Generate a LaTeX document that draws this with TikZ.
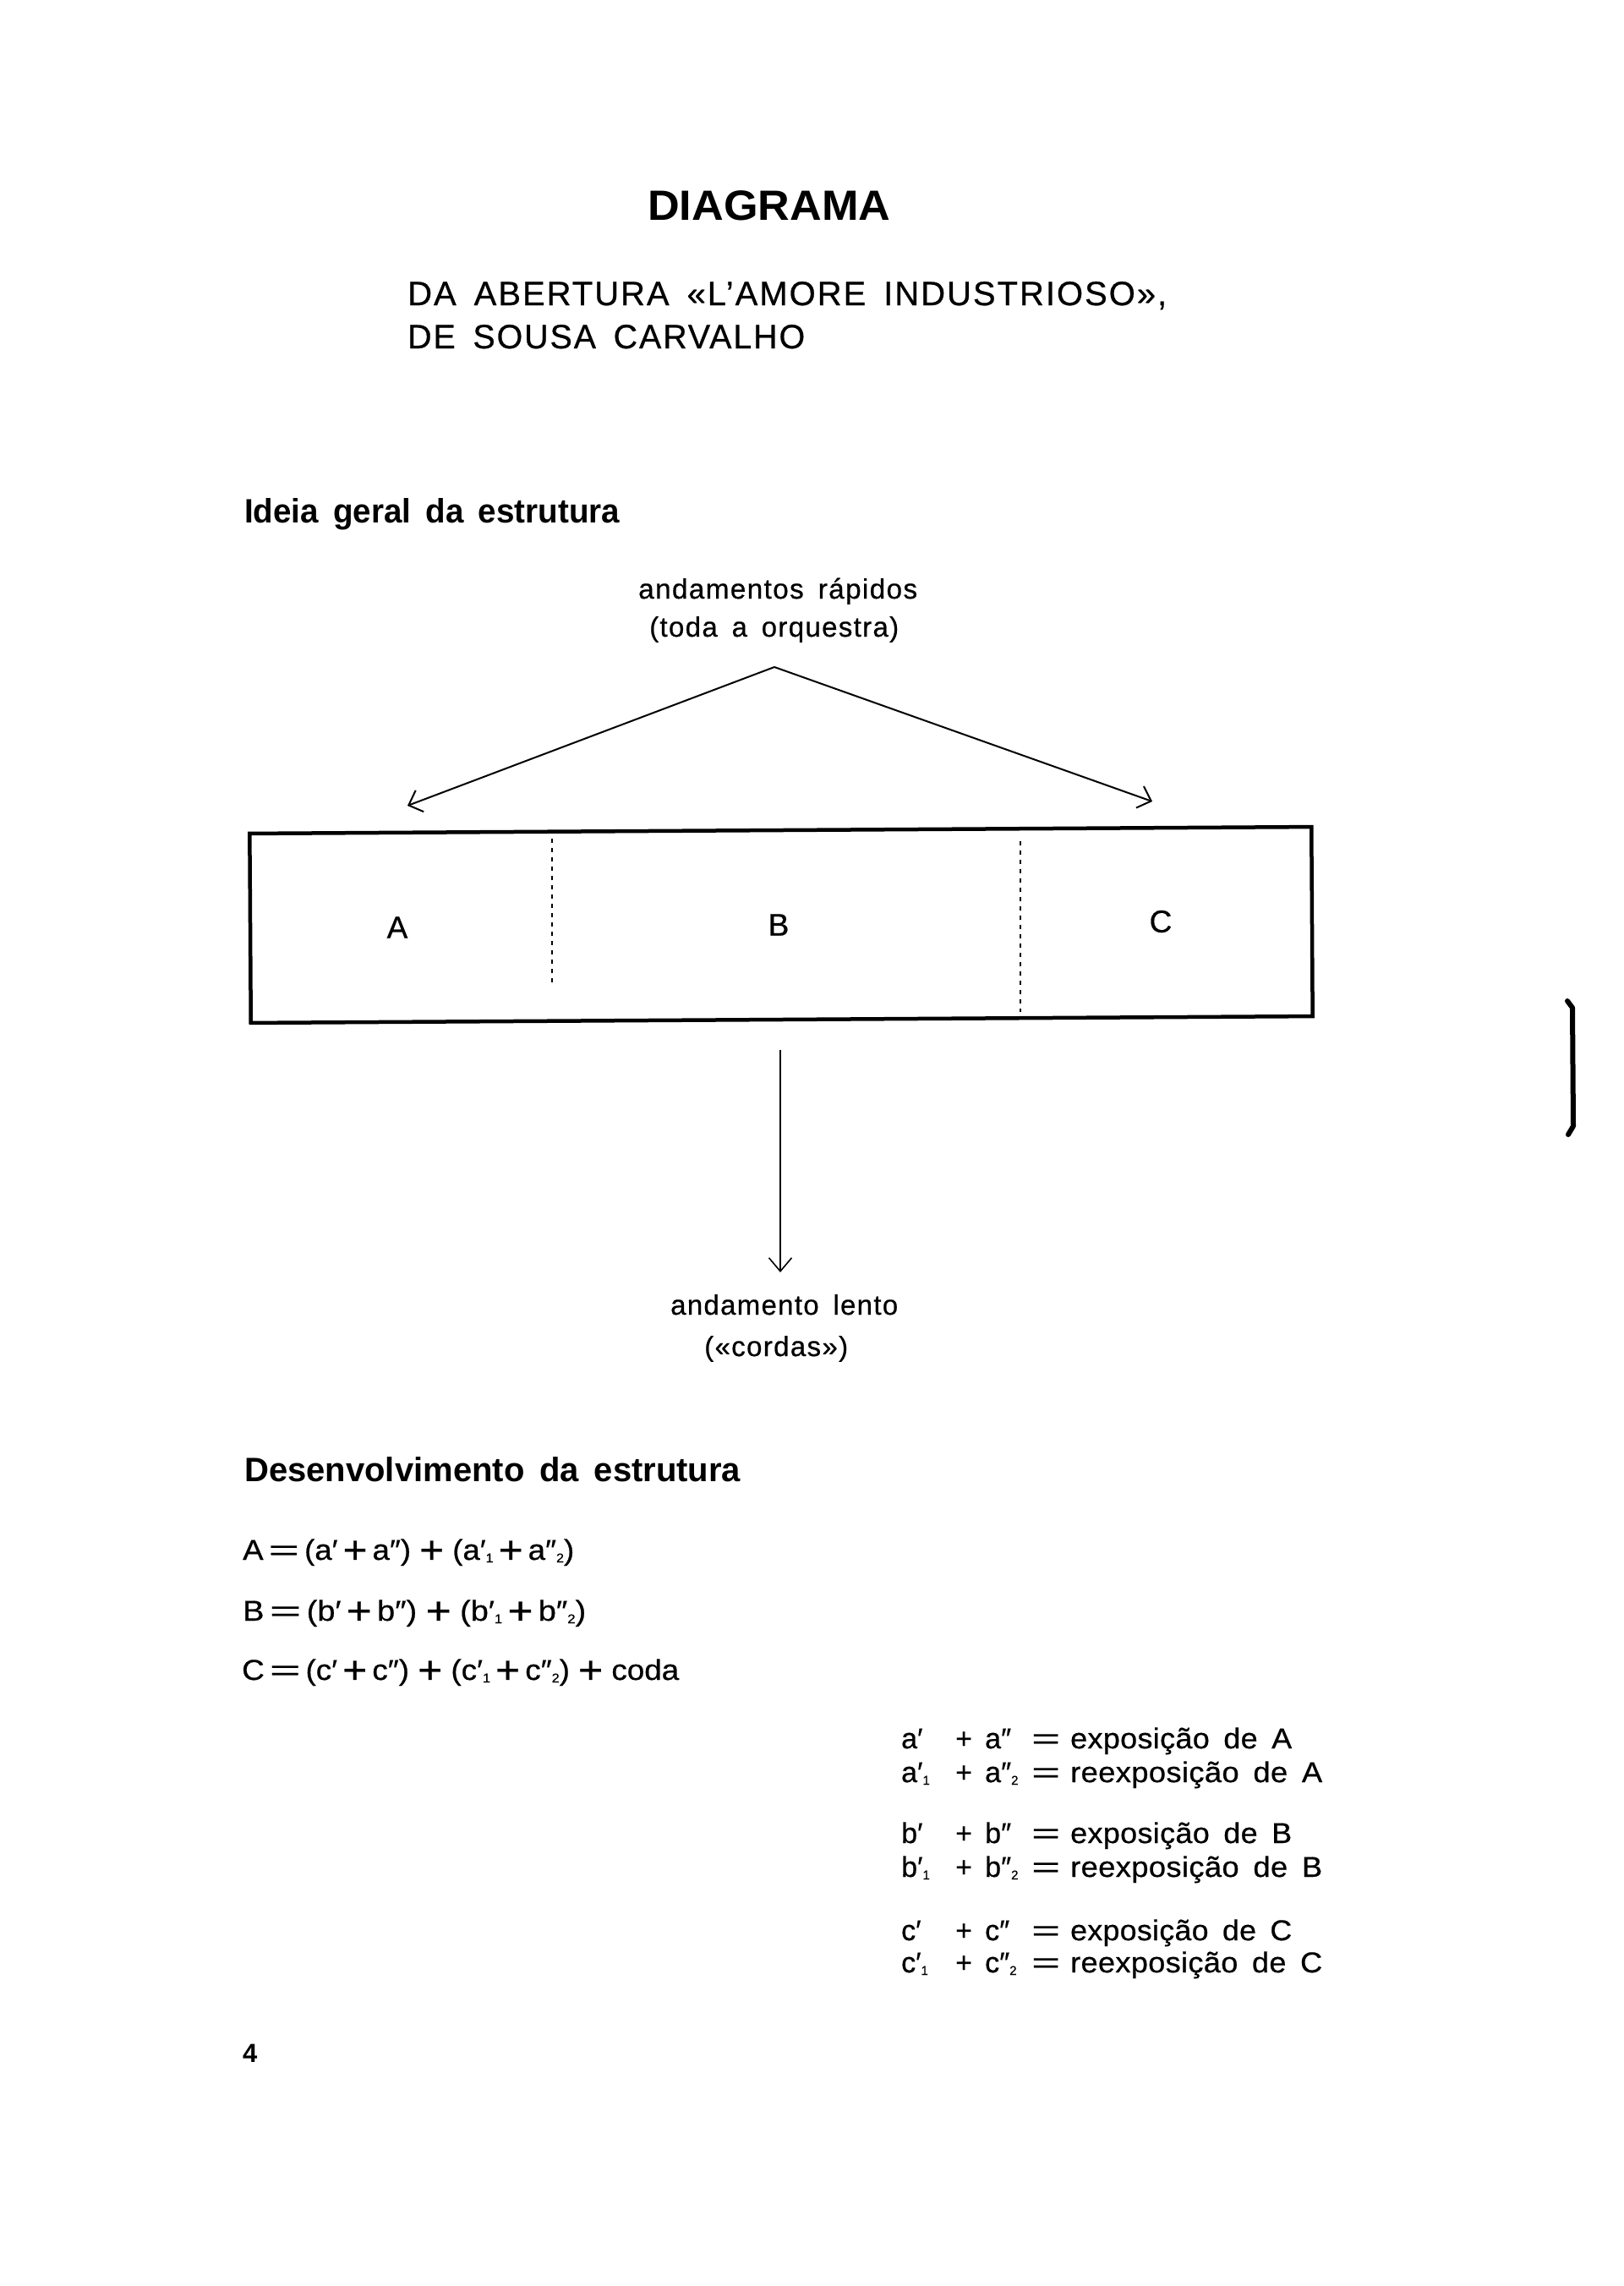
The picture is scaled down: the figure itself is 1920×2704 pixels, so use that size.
\documentclass[tikz,border=0pt]{standalone}
\usepackage{fontspec}
\usepackage{graphicx}
\setmainfont[WordSpace=1.6,UprightFeatures={FakeBold=0.6}]{Liberation Sans}
\usetikzlibrary{arrows.meta}
\newcommand{\fsz}[1]{\fontsize{#1pt}{#1pt}\selectfont}
\newcommand{\lsp}[1]{\addfontfeatures{LetterSpace=#1}}
\newcommand{\fitw}[2]{\resizebox{#1pt}{\height}{#2}}
\newcommand{\sbs}[1]{\raisebox{-3pt}{\fsz{15}#1}}
\newcommand{\weq}{\scalebox{1.7}[1]{=}}
\newcommand{\bplus}{\raisebox{-4pt}{\scalebox{1.35}{+}}}
\begin{document}
\begin{tikzpicture}[x=1pt,y=-1pt,
  txt/.style={inner sep=0pt,anchor=base west},
  eqt/.style={txt,font=\fsz{34}},
  lbl/.style={inner sep=0pt,font=\fsz{37}},
  arr/.style={line width=2pt,-{Straight Barb[length=14pt,width=27pt]}},
  dn/.style={line width=1.6pt,-{Straight Barb[length=16pt,width=27pt]}},
  divider/.style={line width=1.5pt,dash pattern=on 5pt off 6pt},
  frame/.style={draw,line width=4.5pt,minimum width=1256pt,minimum height=224pt,inner sep=0pt,rotate=0.36}]
\fill[white] (0,0) rectangle (1920,2704);
\useasboundingbox (0,0) rectangle (1920,2704);

% titles
\node[txt,font=\fsz{50}\bfseries] (title) at (766,260) {\fitw{287}{DIAGRAMA}};
\node[txt,font=\fsz{40}\lsp{5}] (sub1) at (482,361) {\fitw{898}{DA ABERTURA «L’AMORE INDUSTRIOSO»,}};
\node[txt,font=\fsz{40}\lsp{5}] (sub2) at (482,412) {\fitw{470}{DE SOUSA CARVALHO}};
\node[txt,font=\fsz{40}\bfseries] (h1) at (289,618) {\fitw{444}{Ideia geral da estrutura}};

% upper labels and arrows
\node[txt,font=\fsz{33}\lsp{4}] (rap1) at (755,708) {\fitw{330}{andamentos rápidos}};
\node[txt,font=\fsz{33}\lsp{4}] (rap2) at (768,753) {\fitw{295}{(toda a orquestra)}};
\coordinate (apex) at (916,789);
\coordinate (tipL) at (482,953);
\coordinate (tipR) at (1363,948);
\draw[arr] (apex) -- (tipL);
\draw[arr] (apex) -- (tipR);

% frame
\node[frame] (box) at (924,1094) {};
\coordinate (d1a) at (653,992);
\coordinate (d1b) at (653,1165);
\coordinate (d2a) at (1207,995);
\coordinate (d2b) at (1207,1197);
\draw[divider] (d1a) -- (d1b);
\draw[divider] (d2a) -- (d2b);
\node[lbl] (A) at (470,1097) {A};
\node[lbl] (B) at (921,1094) {B};
\node[lbl] (C) at (1373,1090) {C};

% down arrow
\coordinate (dtop) at (923,1242);
\coordinate (dtip) at (923,1505);
\draw[dn] (dtop) -- (dtip);
\node[txt,font=\fsz{33}\lsp{4}] (lento1) at (793,1555) {\fitw{269}{andamento lento}};
\node[txt,font=\fsz{33}\lsp{4}] (lento2) at (833,1604) {\fitw{170}{(«cordas»)}};

% development
\node[txt,font=\fsz{40}\bfseries] (h2) at (289,1752) {\fitw{587}{Desenvolvimento da estrutura}};

\node[eqt] (eqA) at (287,1845) {\fitw{392}{A\,\weq\,(a′\,\bplus\,a″)\;\bplus\;(a′\sbs{1}\,\bplus\,a″\sbs{2})}};
\node[eqt] (eqB) at (287,1917) {\fitw{406}{B\,\weq\,(b′\,\bplus\,b″)\;\bplus\;(b′\sbs{1}\,\bplus\,b″\sbs{2})}};
\node[eqt] (eqC) at (286,1987) {\fitw{517}{C\,\weq\,(c′\,\bplus\,c″)\;\bplus\;(c′\sbs{1}\,\bplus\,c″\sbs{2})\;\bplus\;coda}};

% legend block
\foreach \nm/\yy/\lft/\rgt/\dsc/\wdt in {
  r1/2068/a′/a″/exposição de A/262,
  r2/2108/a′\sbs{1}/a″\sbs{2}/reexposição de A/298,
  r3/2180/b′/b″/exposição de B/262,
  r4/2220/b′\sbs{1}/b″\sbs{2}/reexposição de B/298,
  r5/2295/c′/c″/exposição de C/262,
  r6/2333/c′\sbs{1}/c″\sbs{2}/reexposição de C/298}{
  \node[eqt] (\nm l) at (1066,\yy) {\lft};
  \node[eqt] (\nm p) at (1130,\yy) {+};
  \node[eqt] (\nm r) at (1165,\yy) {\rgt};
  \node[eqt] (\nm e) at (1220,\yy) {\weq};
  \node[eqt,font=\fsz{34}\lsp{1}] (\nm d) at (1266,\yy) {\fitw{\wdt}{\dsc}};
}

% page number
\node[txt,font=\fsz{31}\bfseries] (pg) at (287,2439) {4};

% margin bar
\draw[line width=6pt,line cap=round,line join=round] (1854,1184) -- (1860,1192) -- (1861,1332) -- (1855,1342);
\end{tikzpicture}
\end{document}
